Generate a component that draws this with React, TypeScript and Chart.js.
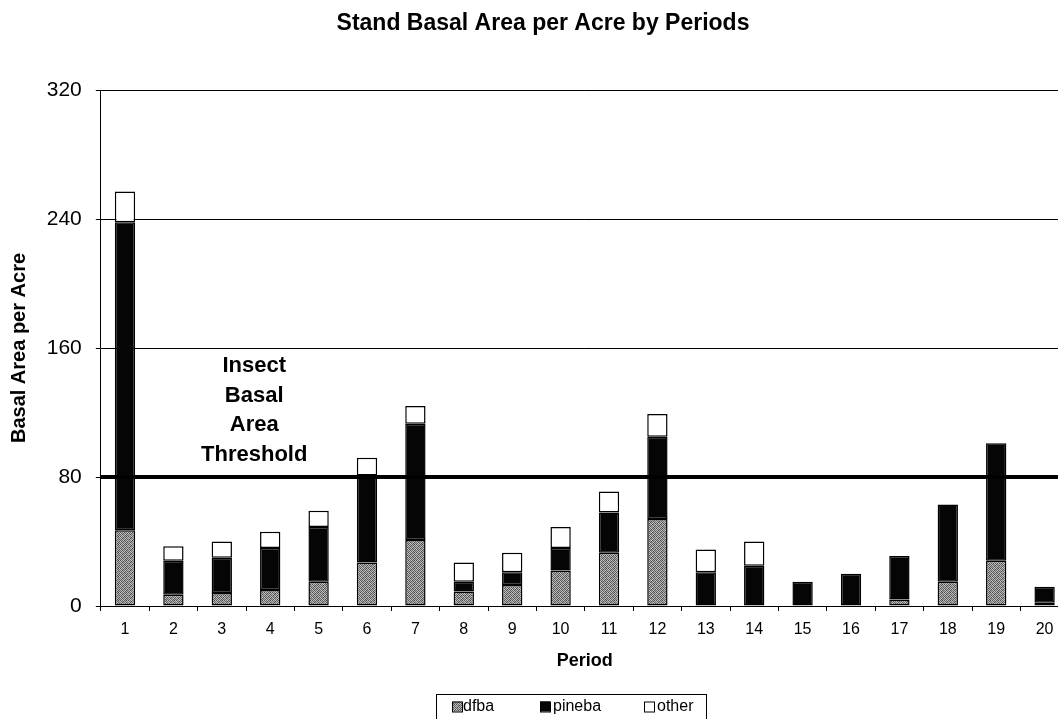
import React, { useEffect, useRef } from "react";
import { Chart, registerables } from "chart.js";

Chart.register(...registerables);

// ---------- data ----------
const periods = ["1", "2", "3", "4", "5", "6", "7", "8", "9", "10", "11", "12", "13", "14", "15", "16", "17", "18", "19", "20"];
const dfba = [47, 7, 8, 10, 15, 27, 41, 9, 13, 22, 33, 54, 0, 0, 0, 0, 4, 15, 28, 2];
const pineba = [191, 21, 22, 26, 34, 54, 72, 6, 8, 14, 25, 51, 21, 25, 15, 20, 27, 48, 73, 10];
const other = [19, 9, 10, 10, 10, 11, 11, 12, 12, 13, 13, 14, 14, 15, 0, 0, 0, 0, 0, 0];
const seriesNames = ["dfba", "pineba", "other"];
const yTicks = [0, 80, 160, 240, 320];
const threshold = 80;
const thresholdLabel = ["Insect", "Basal", "Area", "Threshold"];
const chartTitle = "Stand Basal Area per Acre by Periods";
const xTitle = "Period";
const yTitle = "Basal Area per Acre";

const FONT = 'Arial, "Liberation Sans", Helvetica, sans-serif';
const W = 1075;
const H = 719;

// fixed halftone tile for the dfba fill
const DITHER = [
  [0x50, 0xb8, 0x70, 0xc8, 0x60, 0xa8, 0x48, 0xc0],
  [0xc0, 0x68, 0xa0, 0x48, 0xb8, 0x58, 0xb0, 0x78],
  [0x78, 0xc8, 0x50, 0xa8, 0x70, 0xc8, 0x60, 0xa0],
  [0xb0, 0x48, 0xb8, 0x68, 0xc0, 0x50, 0xb8, 0x58],
  [0x60, 0xa8, 0x78, 0xc8, 0x48, 0xa0, 0x70, 0xc8],
  [0xc8, 0x58, 0xb0, 0x50, 0xb0, 0x68, 0xc0, 0x48],
  [0x70, 0xc0, 0x48, 0xa0, 0x78, 0xc8, 0x50, 0xa8],
  [0xa8, 0x60, 0xc8, 0x70, 0xb8, 0x48, 0xb0, 0x68],
];

function makeDither(): CanvasPattern | string {
  const n = DITHER.length;
  const c = document.createElement("canvas");
  c.width = n;
  c.height = n;
  const ctx = c.getContext("2d");
  if (!ctx) return "#8c8c8c";
  const img = ctx.createImageData(n, n);
  for (let y = 0; y < n; y++) {
    for (let x = 0; x < n; x++) {
      const i = (y * n + x) * 4;
      const v = DITHER[y][x];
      img.data[i] = v;
      img.data[i + 1] = v;
      img.data[i + 2] = v;
      img.data[i + 3] = 255;
    }
  }
  ctx.putImageData(img, 0, 0);
  return ctx.createPattern(c, "repeat") || "#8c8c8c";
}

export default function App() {
  const ref = useRef<HTMLCanvasElement | null>(null);

  useEffect(() => {
    const canvas = ref.current;
    if (!canvas) return;
    const dither = makeDither();
    const fills: any[] = [dither, "#050505", "#ffffff"];

    const overlay = {
      id: "overlay",
      afterDatasetsDraw(chart: any) {
        const { ctx, chartArea, scales } = chart;
        const y = scales.y.getPixelForValue(threshold);
        ctx.save();
        ctx.strokeStyle = "#000";
        ctx.lineWidth = 4;
        ctx.beginPath();
        ctx.moveTo(chartArea.left, y);
        ctx.lineTo(chartArea.right, y);
        ctx.stroke();
        ctx.fillStyle = "#000";
        ctx.font = `bold 22px ${FONT}`;
        ctx.textAlign = "center";
        ctx.textBaseline = "middle";
        const tx = scales.x.getPixelForValue(2.67);
        const n = thresholdLabel.length;
        thresholdLabel.forEach((t, i) => {
          ctx.fillText(t, tx, y - 22.5 - (n - 1 - i) * 29.5);
        });
        // inner half of the y tick marks (ticks cross the axis)
        ctx.lineWidth = 1;
        ctx.beginPath();
        yTicks.forEach((v) => {
          const py = Math.round(scales.y.getPixelForValue(v)) + 0.5;
          ctx.moveTo(chartArea.left, py);
          ctx.lineTo(chartArea.left + 4, py);
        });
        ctx.stroke();
        ctx.restore();
      },
      afterDraw(chart: any) {
        const { ctx } = chart;
        ctx.save();
        // title
        ctx.fillStyle = "#000";
        ctx.font = `bold 23px ${FONT}`;
        ctx.textAlign = "center";
        ctx.textBaseline = "middle";
        ctx.fillText(chartTitle, 543, 24);
        // legend box
        ctx.strokeStyle = "#000";
        ctx.lineWidth = 1;
        ctx.strokeRect(436.5, 694.5, 270, 40);
        const sw = [452, 540, 644];
        const tx = [463, 553, 657];
        ctx.font = `16px ${FONT}`;
        ctx.textAlign = "left";
        ctx.textBaseline = "middle";
        seriesNames.forEach((name, i) => {
          ctx.fillStyle = fills[i];
          ctx.fillRect(sw[i], 701.5, 10, 10);
          ctx.strokeStyle = "#000";
          ctx.lineWidth = 1;
          ctx.strokeRect(sw[i] + 0.5, 701.5 + 0.5, 10, 10);
          ctx.fillStyle = "#000";
          ctx.fillText(name, tx[i], 707);
        });
        ctx.restore();
      },
    };

    const seriesData = [dfba, pineba, other];
    const chart = new Chart(canvas, {
      type: "bar",
      data: {
        labels: periods,
        datasets: seriesNames.map((name, i) => ({
          label: name,
          data: seriesData[i],
          backgroundColor: fills[i],
          borderColor: "#000",
          borderWidth: 1.5,
          borderSkipped: false,
          categoryPercentage: 1,
          barPercentage: 0.42,
        })),
      },
      options: {
        responsive: false,
        animation: false,
        devicePixelRatio: 1,
        layout: { padding: { left: 0, top: 90, right: W - 1068.8, bottom: 0 } },
        plugins: {
          legend: { display: false },
          title: { display: false },
          tooltip: { enabled: false },
        },
        scales: {
          x: {
            stacked: true,
            offset: true,
            grid: {
              display: true,
              drawOnChartArea: false,
              drawTicks: true,
              tickLength: 5,
              color: "#000",
              offset: true,
            },
            border: { display: true, color: "#000", width: 1 },
            ticks: {
              color: "#000",
              font: { family: FONT, size: 16 },
              padding: 9,
              maxRotation: 0,
              autoSkip: false,
            },
            title: {
              display: true,
              text: xTitle,
              color: "#000",
              font: { family: FONT, size: 18, weight: "bold" },
              padding: { top: 0, bottom: 47 },
            },
            afterFit: (s: any) => {
              s.height = H - 606;
            },
          },
          y: {
            stacked: true,
            min: 0,
            max: 320,
            grid: { color: "#000", lineWidth: 1, drawTicks: true, tickLength: 5 },
            border: { display: true, color: "#000", width: 1 },
            ticks: {
              color: "#000",
              font: { family: FONT, size: 21 },
              padding: 14,
            },
            afterBuildTicks: (s: any) => {
              s.ticks = yTicks.map((v) => ({ value: v }));
            },
            title: {
              display: true,
              text: yTitle,
              color: "#000",
              font: { family: FONT, size: 20, weight: "bold" },
              padding: { top: 7, bottom: 0 },
            },
            afterFit: (s: any) => {
              s.width = 100.8;
            },
          },
        },
      },
      plugins: [overlay],
    } as any);

    return () => chart.destroy();
  }, []);

  return (
    <div
      style={{
        position: "fixed",
        left: 0,
        top: 0,
        width: 1058,
        height: 719,
        overflow: "hidden",
        background: "#fff",
      }}
    >
      <canvas ref={ref} width={W} height={H} style={{ display: "block", width: W, height: H }} />
    </div>
  );
}
